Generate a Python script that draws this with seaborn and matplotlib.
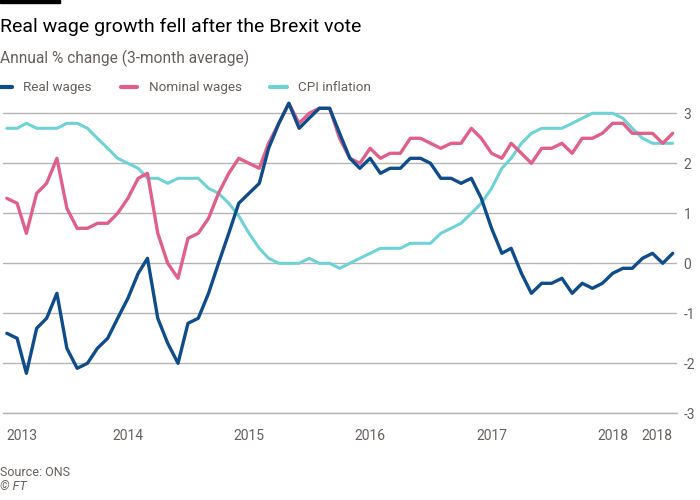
import matplotlib
matplotlib.use("Agg")
import matplotlib.pyplot as plt
from matplotlib.lines import Line2D
import seaborn as sns
import pandas as pd

# ---- data (Jan 2013 - Jul 2018, monthly) ----
real_wages = [-1.4, -1.5, -2.2, -1.3, -1.1, -0.6, -1.7, -2.1, -2.0, -1.7, -1.5, -1.1,
              -0.7, -0.2, 0.1, -1.1, -1.6, -2.0, -1.2, -1.1, -0.6, 0.0, 0.6, 1.2,
              1.4, 1.6, 2.3, 2.8, 3.2, 2.7, 2.9, 3.1, 3.1, 2.6, 2.1, 1.9,
              2.1, 1.8, 1.9, 1.9, 2.1, 2.1, 2.0, 1.7, 1.7, 1.6, 1.7, 1.3,
              0.7, 0.2, 0.3, -0.2, -0.6, -0.4, -0.4, -0.3, -0.6, -0.4, -0.5, -0.4,
              -0.2, -0.1, -0.1, 0.1, 0.2, 0.0, 0.2]
nominal_wages = [1.3, 1.2, 0.6, 1.4, 1.6, 2.1, 1.1, 0.7, 0.7, 0.8, 0.8, 1.0,
                 1.3, 1.7, 1.8, 0.6, 0.0, -0.3, 0.5, 0.6, 0.9, 1.4, 1.8, 2.1,
                 2.0, 1.9, 2.4, 2.8, 3.2, 2.8, 3.0, 3.1, 3.1, 2.5, 2.1, 2.0,
                 2.3, 2.1, 2.2, 2.2, 2.5, 2.5, 2.4, 2.3, 2.4, 2.4, 2.7, 2.5,
                 2.2, 2.1, 2.4, 2.2, 2.0, 2.3, 2.3, 2.4, 2.2, 2.5, 2.5, 2.6,
                 2.8, 2.8, 2.6, 2.6, 2.6, 2.4, 2.6]
cpi_inflation = [2.7, 2.7, 2.8, 2.7, 2.7, 2.7, 2.8, 2.8, 2.7, 2.5, 2.3, 2.1,
                 2.0, 1.9, 1.7, 1.7, 1.6, 1.7, 1.7, 1.7, 1.5, 1.4, 1.2, 0.95,
                 0.6, 0.3, 0.1, 0.0, 0.0, 0.0, 0.1, 0.0, 0.0, -0.1, 0.0, 0.1,
                 0.2, 0.3, 0.3, 0.3, 0.4, 0.4, 0.4, 0.6, 0.7, 0.8, 1.0, 1.2,
                 1.5, 1.9, 2.1, 2.4, 2.6, 2.7, 2.7, 2.7, 2.8, 2.9, 3.0, 3.0,
                 3.0, 2.9, 2.7, 2.5, 2.4, 2.4, 2.4]
series_names = ["Real wages", "Nominal wages", "CPI inflation"]
series_colors = ["#0f4c8a", "#e0608b", "#6fd2d7"]
y_ticks = [-3, -2, -1, 0, 1, 2, 3]
x_tick_labels = ["2013", "2014", "2015", "2016", "2017", "2018", "2018"]

dates = pd.date_range("2013-01-01", periods=len(real_wages), freq="MS")
df = pd.concat([
    pd.DataFrame({"date": dates, "value": vals, "series": name})
    for name, vals in zip(series_names, [real_wages, nominal_wages, cpi_inflation])
])

sns.set_theme(style="white")
plt.rcParams["font.family"] = ["Roboto", "DejaVu Sans"]
plt.rcParams["axes.unicode_minus"] = False

TXT = "#66605c"
GRID = "#b5b5b5"

fig = plt.figure(figsize=(7, 5), dpi=100)
ax = fig.add_axes([2.5 / 700, 1 - 413.3 / 500, (676.7 - 2.5) / 700, 315 / 500])

# draw in reverse order so real wages sits on top
pal = dict(zip(series_names, series_colors))
for name in series_names[::-1]:
    sns.lineplot(data=df[df.series == name], x="date", y="value", color=pal[name],
                 lw=2.4 if name != "CPI inflation" else 2.2, ax=ax, legend=False)

ax.set_ylim(-3, 3.3)
ax.set_yticks(y_ticks)
ax.set_yticklabels([str(t) for t in y_ticks])
ax.yaxis.tick_right()
ax.tick_params(axis="y", length=0, pad=5, labelsize=10, labelcolor=TXT)
for t in y_ticks:
    ax.axhline(t, color=GRID, lw=1, zorder=0)

ax.set_xlim(dates[0] - pd.Timedelta(days=13), dates[-1] + pd.Timedelta(days=12))
major = [d for d in dates if d.month == 1] + [dates[-1]]
ax.set_xticks(major)
ax.set_xticklabels(x_tick_labels)
ax.set_xticks(dates, minor=True)
ax.tick_params(axis="x", which="major", length=7.5, width=1, color=GRID, labelsize=10,
               labelcolor=TXT, pad=4, direction="out")
ax.tick_params(axis="x", which="minor", length=4.8, width=1, color=GRID, direction="out")
labs = ax.get_xticklabels()
labs[0].set_ha("left")
labs[-1].set_ha("right")
ax.set_xlabel("")
ax.set_ylabel("")
for s in ["top", "left", "right"]:
    ax.spines[s].set_visible(False)
ax.spines["bottom"].set_color(GRID)
ax.spines["bottom"].set_linewidth(1)

# header
fig.patches.append(plt.Rectangle((0, 1 - 3.3 / 500), 60 / 700, 3.3 / 500,
                                 transform=fig.transFigure, color="black"))
fig.text(0.0, 1 - 32 / 500, "Real wage growth fell after the Brexit vote",
         fontsize=14, color="#000000", va="baseline", ha="left")
fig.text(0.0, 1 - 62.7 / 500, "Annual % change (3-month average)",
         fontsize=11.2, color=TXT, va="baseline", ha="left")

handles = [Line2D([0], [0], color=c, lw=3) for c in series_colors]
fig.legend(handles, series_names, loc="center left", bbox_to_anchor=(-0.006, 1 - 88 / 500),
           ncol=3, frameon=False, handlelength=1.2, handletextpad=0.85, columnspacing=2.15,
           fontsize=9.7, labelcolor=TXT, borderaxespad=0, borderpad=0)

fig.text(0.0, 1 - 476 / 500, "Source: ONS", fontsize=9, color=TXT, va="baseline")
fig.text(0.0, 1 - 490 / 500, "© FT", fontsize=9, color=TXT, va="baseline", style="italic")

fig.savefig("out.png", dpi=100)
